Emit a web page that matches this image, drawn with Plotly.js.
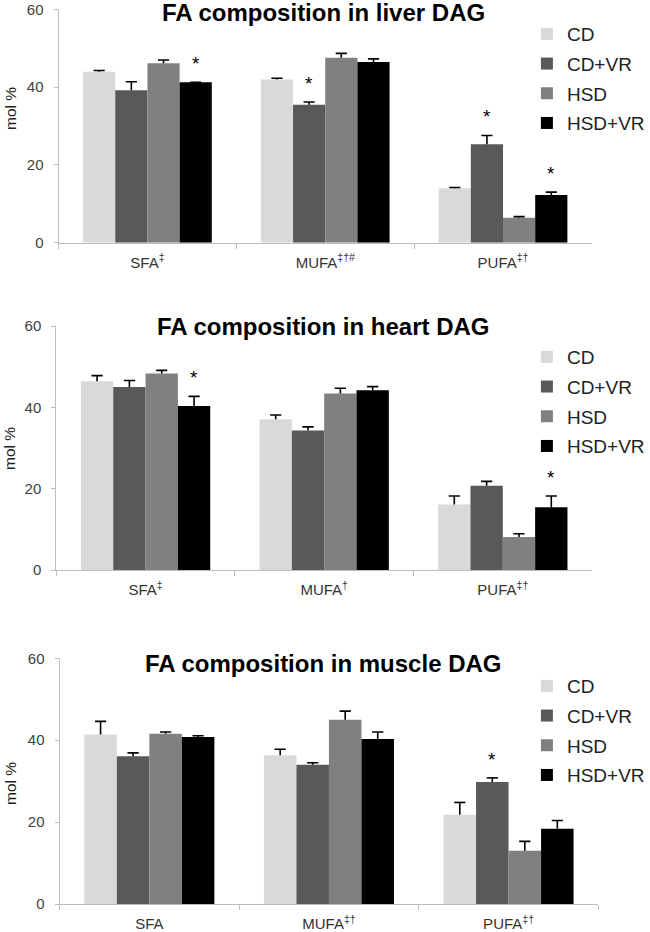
<!DOCTYPE html>
<html>
<head>
<meta charset="utf-8">
<script src="https://cdn.plot.ly/plotly-3.0.1.min.js"></script>
<style>html,body{margin:0;padding:0;background:#fff}#chart{width:650px;height:932px}</style>
</head>
<body>
<div id="chart"></div>
<script>
// ---- data ----
const seriesNames = ['CD', 'CD+VR', 'HSD', 'HSD+VR'];
const seriesColors = ['#d9d9d9', '#595959', '#808080', '#000000'];

const liverTitle = 'FA composition in liver DAG';
const liverCats = ['SFA<sup>‡</sup>', 'MUFA<sup>‡†#</sup>', 'PUFA<sup>‡†</sup>'];
const liverCD = [44.0, 42.0, 14.0];
const liverCDVR = [39.2, 35.5, 25.3];
const liverHSD = [46.2, 47.6, 6.4];
const liverHSDVR = [41.3, 46.5, 12.3];
const liverCDErr = [0.3, 0.3, 0.2];
const liverCDVRErr = [2.2, 0.7, 2.3];
const liverHSDErr = [0.8, 1.1, 0.3];
const liverHSDVRErr = [0, 0.8, 0.7];
// significance stars: [category index, series index]
const liverStars = [[0, 3], [1, 1], [2, 1], [2, 3]];

const heartTitle = 'FA composition in heart DAG';
const heartCats = ['SFA<sup>‡</sup>', 'MUFA<sup>†</sup>', 'PUFA<sup>‡†</sup>'];
const heartCD = [46.4, 37.1, 16.1];
const heartCDVR = [45.0, 34.3, 20.7];
const heartHSD = [48.3, 43.4, 8.1];
const heartHSDVR = [40.3, 44.2, 15.4];
const heartCDErr = [1.4, 1.0, 2.1];
const heartCDVRErr = [1.6, 0.9, 1.1];
const heartHSDErr = [0.8, 1.3, 0.8];
const heartHSDVRErr = [2.4, 0.9, 2.8];
const heartStars = [[0, 3], [2, 3]];

const muscleTitle = 'FA composition in muscle DAG';
const muscleCats = ['SFA', 'MUFA<sup>‡†</sup>', 'PUFA<sup>‡†</sup>'];
const muscleCD = [41.4, 36.3, 21.8];
const muscleCDVR = [36.1, 34.0, 29.8];
const muscleHSD = [41.6, 45.0, 13.0];
const muscleHSDVR = [40.8, 40.3, 18.4];
const muscleCDErr = [3.2, 1.5, 3.0];
const muscleCDVRErr = [0.8, 0.5, 1.0];
const muscleHSDErr = [0.4, 2.1, 2.3];
const muscleHSDVRErr = [0.3, 1.7, 2.0];
const muscleStars = [[2, 1]];

const yTickVals = [0, 20, 40, 60];
const yTitle = 'mol %';

// ---- layout geometry (pixels in a 650x932 page) ----
const W = 650, H = 932;
const BARGAP = 0.276;
const panels = [
  {title: liverTitle, cats: liverCats, means: [liverCD, liverCDVR, liverHSD, liverHSDVR],
   errs: [liverCDErr, liverCDVRErr, liverHSDErr, liverHSDVRErr], stars: liverStars,
   px: [59, 596.5], py: [9.5, 242.7], titleY: 12.5, yTitleY: 108, legTop: 15},
  {title: heartTitle, cats: heartCats, means: [heartCD, heartCDVR, heartHSD, heartHSDVR],
   errs: [heartCDErr, heartCDVRErr, heartHSDErr, heartHSDVRErr], stars: heartStars,
   px: [56.7, 596.7], py: [326, 570], titleY: 326, yTitleY: 448, legTop: 338},
  {title: muscleTitle, cats: muscleCats, means: [muscleCD, muscleCDVR, muscleHSD, muscleHSDVR],
   errs: [muscleCDErr, muscleCDVRErr, muscleHSDErr, muscleHSDVRErr], stars: muscleStars,
   px: [60, 603], py: [658.3, 904], titleY: 663, yTitleY: 783, legTop: 667}
];

const traces = [];
const errTraces = [];
const layout = {
  width: W, height: H,
  margin: {l: 0, r: 0, t: 0, b: 0},
  paper_bgcolor: '#ffffff', plot_bgcolor: '#ffffff',
  barmode: 'group', bargap: BARGAP, bargroupgap: 0,
  scattermode: 'group', scattergap: BARGAP,
  font: {family: 'Liberation Sans, Arial, sans-serif', color: '#333333'},
  annotations: []
};

const barW = (1 - BARGAP) / seriesNames.length;

panels.forEach((p, i) => {
  const n = i === 0 ? '' : String(i + 1);
  const xa = 'x' + n, ya = 'y' + n;
  const legName = 'legend' + n;
  p.means.forEach((vals, s) => {
    traces.push({
      type: 'bar', name: seriesNames[s], x: p.cats, y: vals,
      xaxis: xa, yaxis: ya, legend: legName, legendgroup: 'p' + i + 's' + s,
      marker: {color: seriesColors[s], line: {width: 0}},
      hoverinfo: 'name+y'
    });
    // plus-only error bar: cap marker at mean+err, stem down to the bar top
    errTraces.push({
      type: 'scatter', mode: 'markers', name: seriesNames[s] + ' SEM', showlegend: false,
      x: p.cats, y: vals.map((v, k) => v + p.errs[s][k]),
      xaxis: xa, yaxis: ya,
      marker: {symbol: 'line-ew', size: 8, color: '#000000', line: {width: 1.6, color: '#000000'}},
      error_y: {type: 'data', symmetric: false, array: vals.map(() => 0),
                arrayminus: p.errs[s], color: '#000000', thickness: 1.6, width: 0},
      hoverinfo: 'skip'
    });
  });
  layout['xaxis' + n] = {
    domain: [p.px[0] / W, p.px[1] / W], anchor: ya, type: 'category',
    range: [-0.5, p.cats.length - 0.5],
    showline: true, linecolor: '#bdbdbd', linewidth: 1,
    ticks: 'outside', tickson: 'boundaries', ticklen: 5, tickcolor: '#bdbdbd',
    ticklabelstandoff: 6,
    tickfont: {size: 15, color: '#333333'}, showgrid: false, zeroline: false, fixedrange: true
  };
  layout['yaxis' + n] = {
    domain: [1 - p.py[1] / H, 1 - p.py[0] / H], anchor: xa, range: [0, 60],
    tickvals: yTickVals, showline: true, linecolor: '#bdbdbd', linewidth: 1,
    ticks: 'outside', ticklen: 4, tickcolor: '#bdbdbd', ticklabelstandoff: 7,
    tickfont: {size: 15, color: '#404040'}, showgrid: false, zeroline: false, fixedrange: true
  };
  layout[legName] = {
    x: 531 / W, xanchor: 'left', y: 1 - p.legTop / H, yanchor: 'top',
    font: {size: 19, color: '#222222'}, bgcolor: 'rgba(0,0,0,0)',
    tracegroupgap: 2, traceorder: 'grouped'
  };
  layout.annotations.push({
    xref: 'paper', yref: 'paper', x: 326 / W, y: 1 - p.titleY / H,
    xanchor: 'center', yanchor: 'middle', showarrow: false,
    text: '<b>' + p.title + '</b>', font: {size: 24, color: '#000000'}
  });
  layout.annotations.push({
    xref: 'paper', yref: 'paper', x: 10 / W, y: 1 - p.yTitleY / H,
    xanchor: 'center', yanchor: 'middle', showarrow: false, textangle: -90,
    text: yTitle, font: {size: 15.5, color: '#222222'}
  });
  p.stars.forEach(([c, s]) => {
    layout.annotations.push({
      xref: xa, yref: ya, x: c + (s - 1.5) * barW, y: p.means[s][c] + p.errs[s][c],
      xanchor: 'center', yanchor: 'bottom', yshift: 6, showarrow: false,
      text: '*', font: {size: 19, color: '#000000'}
    });
  });
});

Plotly.newPlot('chart', traces.concat(errTraces), layout, {displayModeBar: false, staticPlot: true});
</script>
</body>
</html>
